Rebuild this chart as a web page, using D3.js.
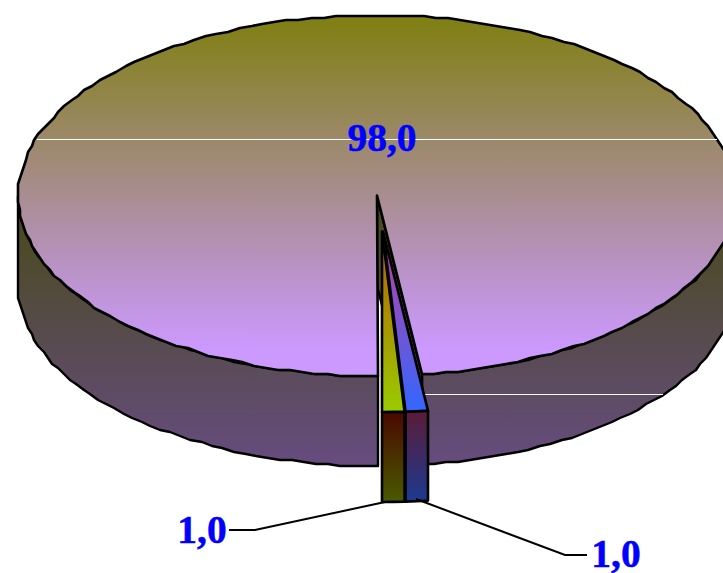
<!DOCTYPE html>
<html>
<head>
<meta charset="utf-8">
<script src="https://cdn.jsdelivr.net/npm/d3@7"></script>
<style>
html, body { margin: 0; padding: 0; background: #fff; }
svg { display: block; }
text { font-family: "Liberation Serif", serif; font-weight: bold; fill: #0000ff; stroke: #0000ff; stroke-width: 0.5px; }
</style>
</head>
<body>
<svg id="chart" width="723" height="573"></svg>
<script>
// values run counter-clockwise from the front of the pie
var values = [1, 1, 98];
var sliceTop = [["#b85c00", "#99cc00"], ["#c040a0", "#3366ff"], ["#7f7f10", "#cc99ff"]];
var sliceSide = [["#4a0800", "#4a5a00"], ["#5a1c38", "#1c3a90"], ["#4a4a20", "#664c80"]];

var cx = 377, cy = 195.5, rx = 359, ry = 180.5, depth = 90;
var exploded = [[5, 36], [6, 36], [0, 0]];

var svg = d3.select("#chart");
var defs = svg.append("defs");
var fmt = d3.formatLocale({decimal: ",", thousands: ".", grouping: [3], currency: ["", ""]}).format(".1f");

var arcs = d3.pie().sort(null)(values);

var px = d3.scaleLinear().domain([-1, 1]).range([cx - rx, cx + rx]);
var py = d3.scaleLinear().domain([-1, 1]).range([cy - ry, cy + ry]);

// the outline in the original is a coarse polygon, snap to a grid to get the same wobble
function snap(v) { return Math.round(v / 2) * 2; }

function rim(a0, a1, dx, dy) {
	var n = Math.max(2, Math.ceil((a1 - a0) / (Math.PI / 90)));
	var big = a1 - a0 > 1;
	return d3.range(n + 1).map(function(i) {
		var a = a0 + (a1 - a0) * i / n;
		var x = px(Math.sin(a)) + dx, y = py(Math.cos(a)) + dy;
		return big ? [snap(x), snap(y)] : [x, y];
	});
}
var line = d3.line();

function gradient(id, colors, y0, y1) {
	var g = defs.append("linearGradient").attr("id", id)
		.attr("gradientUnits", "userSpaceOnUse")
		.attr("x1", 0).attr("x2", 0).attr("y1", y0).attr("y2", y1);
	g.append("stop").attr("offset", 0).attr("stop-color", colors[0]);
	g.append("stop").attr("offset", 1).attr("stop-color", colors[1]);
	return "url(#" + id + ")";
}

function draw(d, i) {
	var dx = exploded[i][0], dy = exploded[i][1];
	var a0 = d.startAngle, a1 = d.endAngle;
	var apex = [cx + dx, cy + dy];
	var g = svg.append("g").attr("class", "slice");
	var top = rim(a0, a1, dx, dy);
	var sideFill, topFill;

	if (i == 2) {
		topFill = gradient("top" + i, sliceTop[i], cy - ry, 350);
		sideFill = gradient("side" + i, sliceSide[i], cy + 25, cy + ry + depth);
		// right part of the outer wall, then the left part
		[[a0, Math.PI / 2], [Math.PI * 3 / 2, a1]].forEach(function(r) {
			var t = rim(r[0], r[1], dx, dy);
			var b = t.slice().reverse().map(function(p) { return [p[0], p[1] + depth]; });
			g.append("path").attr("d", line(t.concat(b)) + "Z")
				.attr("fill", sideFill).attr("stroke", "#000").attr("stroke-width", 2.4).attr("stroke-linejoin", "round");
		});
		// inner wall of the gap
		var e = top[0];
		g.append("path")
			.attr("d", line([apex, e, [e[0], e[1] + depth], [apex[0], apex[1] + depth]]) + "Z")
			.attr("fill", sideFill).attr("stroke", "#000").attr("stroke-width", 2.4);
	} else {
		topFill = gradient("top" + i, sliceTop[i], cy + dy, cy + ry + dy);
		sideFill = gradient("side" + i, sliceSide[i], cy + ry + dy, cy + ry + dy + depth);
		var b = top.slice().reverse().map(function(p) { return [p[0], p[1] + depth]; });
		g.append("path").attr("d", line(top.concat(b)) + "Z")
			.attr("fill", sideFill).attr("stroke", "#000").attr("stroke-width", 2.6).attr("stroke-linejoin", "round");
	}

	g.append("path").attr("d", line([apex].concat(top)) + "Z")
		.attr("fill", topFill).attr("stroke", "#000").attr("stroke-width", 2.6).attr("stroke-linejoin", "round");
}

// big slice first, the two pulled out ones stand in front
draw(arcs[2], 2);

// thin light seams between the gradient bands
svg.append("line").attr("x1", 37).attr("x2", 717).attr("y1", 139.5).attr("y2", 139.5)
	.attr("stroke", "#fff").attr("stroke-width", 1).attr("shape-rendering", "crispEdges");
svg.append("line").attr("x1", 425).attr("x2", 663).attr("y1", 394.5).attr("y2", 394.5)
	.attr("stroke", "#fff").attr("stroke-width", 1).attr("shape-rendering", "crispEdges");

draw(arcs[0], 0);
draw(arcs[1], 1);

// leaders
var leaders = d3.line();
svg.append("path").attr("d", leaders([[229, 530], [255, 530], [385, 502]]))
	.attr("fill", "none").attr("stroke", "#000").attr("stroke-width", 2);
svg.append("path").attr("d", leaders([[416, 499], [565, 555], [587, 555]]))
	.attr("fill", "none").attr("stroke", "#000").attr("stroke-width", 2);

var labelPos = [[202, 543], [616, 567], [382, 151]];
svg.selectAll("text.lab").data(values).enter().append("text")
	.attr("class", "lab")
	.attr("x", function(d, i) { return labelPos[i][0]; })
	.attr("y", function(d, i) { return labelPos[i][1]; })
	.attr("text-anchor", "middle")
	.attr("font-size", 39.5)
	.text(function(d) { return fmt(d); });
</script>
</body>
</html>
